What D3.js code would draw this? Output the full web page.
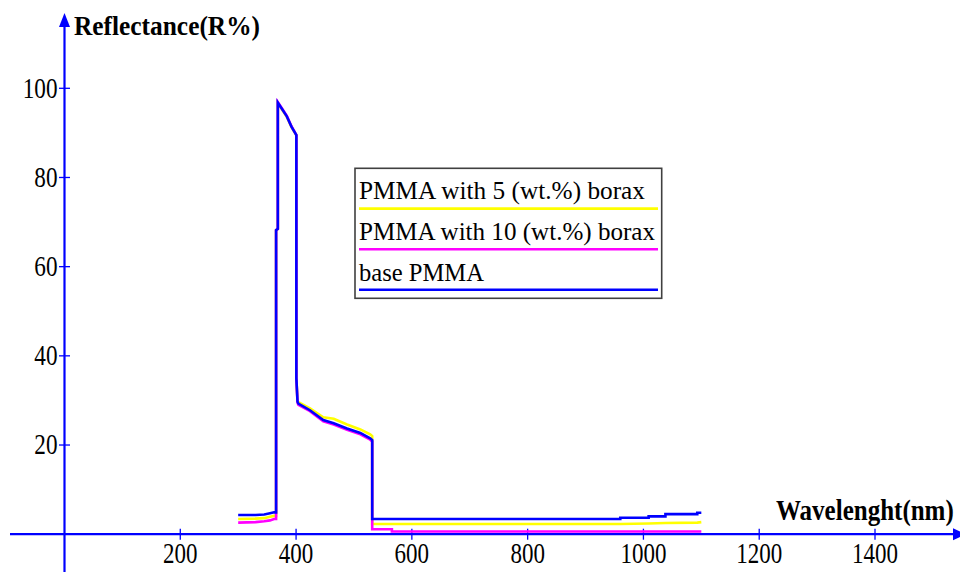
<!DOCTYPE html>
<html>
<head>
<meta charset="utf-8">
<script src="https://cdn.jsdelivr.net/npm/d3@7/dist/d3.min.js"></script>
<style>
  html, body { margin: 0; padding: 0; background: #fff; }
  svg { display: block; }
  svg text { font-family: "Liberation Serif", "Times New Roman", "DejaVu Serif", serif; fill: #000; }
</style>
</head>
<body>
<svg id="chart" width="960" height="572"></svg>
<script>
// ---- data ----
const wavelength = [300, 330, 345, 355, 362, 365.5, 365.5, 368.5, 368.5, 376, 384, 392, 400.5, 400.5, 402.5, 404, 424, 447, 465, 488, 511, 528, 531.5, 531.5, 565.5, 565.5, 960, 960, 1009, 1009, 1038, 1038, 1093, 1093, 1100];
const basePMMA = [4.3, 4.3, 4.4, 4.7, 4.9, 4.9, 68.2, 68.5, 96.8, 95.3, 93.7, 91.4, 89.5, 35.0, 29.7, 29.3, 27.8, 25.6, 24.9, 23.7, 22.7, 21.5, 21.1, 3.4, 3.4, 3.4, 3.4, 3.7, 3.7, 4.0, 4.0, 4.5, 4.5, 4.8, 4.8];
const borax5 = [3.4, 3.5, 3.6, 3.9, 4.1, 4.1, 68.2, 68.5, 96.6, 95.2, 93.6, 91.3, 89.5, 35.0, 29.9, 29.6, 28.2, 26.2, 25.9, 24.6, 23.5, 22.4, 22.0, 2.3, 2.3, 2.3, 2.3, 2.3, 2.4, 2.4, 2.5, 2.5, 2.6, 2.6, 2.7];
const borax10 = [2.6, 2.7, 2.9, 3.1, 3.4, 3.4, 68.2, 68.5, 96.9, 95.4, 93.8, 91.5, 89.5, 35.0, 29.5, 29.0, 27.6, 25.3, 24.6, 23.4, 22.4, 21.2, 20.8, 1.1, 1.1, 0.6, 0.6, 0.6, 0.6, 0.6, 0.6, 0.6, 0.6, 0.6, 0.6];
const xTicks = [200, 400, 600, 800, 1000, 1200, 1400];
const yTicks = [20, 40, 60, 80, 100];
const legendLabels = ["PMMA with 5 (wt.%) borax", "PMMA with 10 (wt.%) borax", "base PMMA"];
const yTitle = "Reflectance(R%)";
const xTitle = "Wavelenght(nm)";

// ---- drawing ----
const FONT = "'Liberation Serif', 'Times New Roman', 'DejaVu Serif', serif";
const svg = d3.select("#chart").attr("font-family", FONT);
const axisColor = "#0000ff";
const x = d3.scaleLinear().domain([0, 1400]).range([64.5, 875]);
const y = d3.scaleLinear().domain([0, 100]).range([534.2, 88.3]);

// axes lines
svg.append("line").attr("x1", 10).attr("x2", 956).attr("y1", y(0)).attr("y2", y(0))
  .attr("stroke", axisColor).attr("stroke-width", 2.2);
svg.append("line").attr("x1", x(0)).attr("x2", x(0)).attr("y1", 22).attr("y2", 572)
  .attr("stroke", axisColor).attr("stroke-width", 2.2);
// arrow heads
svg.append("path").attr("fill", axisColor)
  .attr("d", `M${x(0)},13 L${x(0) - 5.5},27 L${x(0) + 5.5},27 Z`);
svg.append("path").attr("fill", axisColor)
  .attr("d", `M966,${y(0)} L953,${y(0) - 6} L953,${y(0) + 6} Z`);

function addText(g, txt, xx, yy, size, width, bold) {
  return g.append("text").attr("x", xx).attr("y", yy)
    .attr("font-family", FONT).attr("font-size", size)
    .attr("font-weight", bold ? "bold" : "normal")
    .attr("textLength", width).attr("lengthAdjust", "spacingAndGlyphs")
    .attr("fill", "#000").text(txt);
}

// ticks
const xt = svg.append("g");
xTicks.forEach(t => {
  xt.append("line").attr("x1", x(t)).attr("x2", x(t)).attr("y1", y(0) - 5.5).attr("y2", y(0) + 5.5)
    .attr("stroke", axisColor).attr("stroke-width", 1.3);
  const s = String(t);
  const w = 11.5 * s.length;
  addText(xt, s, x(t) - w / 2, 563, 29, w, false);
});
const yt = svg.append("g");
yTicks.forEach(t => {
  yt.append("line").attr("x1", x(0) - 5.5).attr("x2", x(0) + 5.5).attr("y1", y(t)).attr("y2", y(t))
    .attr("stroke", axisColor).attr("stroke-width", 1.3);
  const s = String(t);
  const w = 11.6 * s.length;
  addText(yt, s, 57.5 - w, y(t) + 9.2, 29, w, false);
});

// titles
addText(svg, yTitle, 74, 35, 27, 186, true);
svg.append("g").attr("transform", "translate(776,520) scale(1,1.15)")
  .append("text").attr("x", 0).attr("y", 0)
  .attr("font-family", FONT).attr("font-size", 25).attr("font-weight", "bold")
  .attr("fill", "#000").text(xTitle);

// series
const series = [
  { name: legendLabels[0], values: borax5, color: "#ffff00" },
  { name: legendLabels[1], values: borax10, color: "#ff00ff" },
  { name: legendLabels[2], values: basePMMA, color: "#0000ff" }
];
const line = d3.line().x(d => x(d[0])).y(d => y(d[1]));
series.forEach(s => {
  svg.append("path")
    .datum(wavelength.map((w, i) => [w, s.values[i]]))
    .attr("fill", "none").attr("stroke", s.color).attr("stroke-width", 2.6)
    .attr("stroke-linejoin", "miter").attr("d", line);
});

// legend
const lg = svg.append("g");
lg.append("rect").attr("x", 355).attr("y", 168.3).attr("width", 306.7).attr("height", 130)
  .attr("fill", "#fff").attr("stroke", "#404040").attr("stroke-width", 1.6);
const legendWidths = [286, 296, 125];
const baselines = [199.3, 240, 280.5];
series.forEach((s, i) => {
  addText(lg, s.name, 359, baselines[i], 25, legendWidths[i], false);
  lg.append("line").attr("x1", 359).attr("x2", 658).attr("y1", baselines[i] + 9.3).attr("y2", baselines[i] + 9.3)
    .attr("stroke", s.color).attr("stroke-width", 2.6);
});
</script>
</body>
</html>
